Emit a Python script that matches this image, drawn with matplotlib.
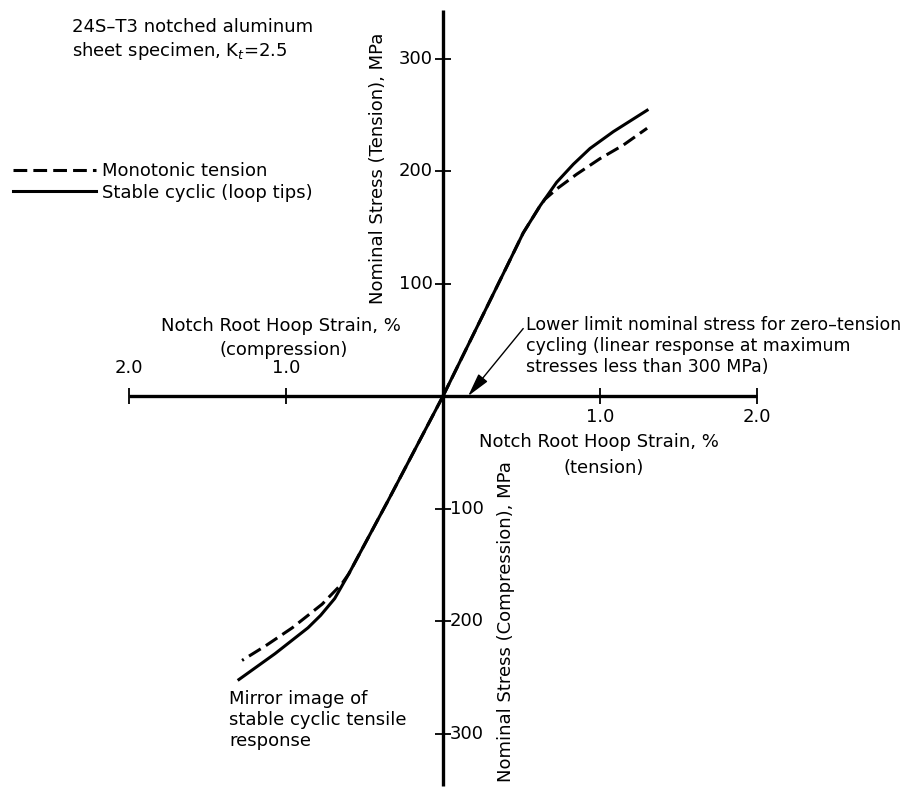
"""Notch root hoop strain vs nominal stress, 24S-T3 notched aluminum sheet."""

import matplotlib.pyplot as plt

# stable cyclic (loop tips) - tension quadrant
cyc_strain_t = [0, 0.406, 0.511, 0.618, 0.724, 0.83, 0.936, 1.085, 1.30]
cyc_stress_t = [0, 115, 145, 169, 190, 206, 220, 235, 254]

# monotonic tension - tension quadrant
mono_strain_t = [0, 0.406, 0.511, 0.618, 0.65, 0.724, 0.85, 1.0, 1.148, 1.30]
mono_stress_t = [0, 115, 145, 169, 175, 184, 197, 211, 223, 238]

# mirror image - compression quadrant
cyc_strain_c = [0, -0.35, -0.50, -0.60, -0.69, -0.78, -0.86, -1.07, -1.30]
cyc_stress_c = [0, -93, -132, -158, -180, -195, -206, -229, -252]
mono_strain_c = [0, -0.35, -0.50, -0.60, -0.645, -0.77, -0.96, -1.13, -1.28]
mono_stress_c = [0, -93, -132, -158, -167, -185, -206, -222, -235]

strain_ticks = [-2.0, -1.0, 1.0, 2.0]
stress_ticks = [-300, -200, -100, 100, 200, 300]
stress_axis_ends = [-347, 343]

# lower limit for zero-tension cycling (arrow tip on strain axis)
lower_limit_strain = 0.16

W, H = 911, 789
FS = 13
PT = 0.72  # points per pixel at dpi 100

plt.rcParams["font.family"] = ["DejaVu Sans"]

fig = plt.figure(figsize=(W / 100, H / 100), dpi=100)
ax = fig.add_axes([0, 0, 1, 1])
ax.set_xlim(-2.822, 2.981)
ax.set_ylim(-349.3, 352.0)
ax.axis("off")

# axes drawn through the origin
ax.plot([strain_ticks[0], strain_ticks[-1]], [0, 0], color="black", lw=2.4,
        solid_capstyle="butt")
ax.plot([0, 0], stress_axis_ends, color="black", lw=2.4, solid_capstyle="butt")
ax.plot(strain_ticks, [0] * len(strain_ticks), ls="none", marker="|",
        ms=12, mew=1.3, color="black")
ax.plot([0] * len(stress_ticks), stress_ticks, ls="none", marker="_",
        ms=11, mew=1.3, color="black")

for t in strain_ticks:
    dy = 28 if t < 0 else -21
    ax.annotate(f"{abs(t):.1f}", (t, 0), xytext=(0, dy * PT),
                textcoords="offset points", ha="center", va="center",
                fontsize=FS)
for t in stress_ticks:
    if t > 0:
        ax.annotate(f"{t}", (0, t), xytext=(-10 * PT, 0),
                    textcoords="offset points", ha="right", va="center",
                    fontsize=FS)
    else:
        ax.annotate(f"{abs(t)}", (0, t), xytext=(7 * PT, 0),
                    textcoords="offset points", ha="left", va="center",
                    fontsize=FS)

# curves
dash = (4.5, 2)
ax.plot(mono_strain_t, mono_stress_t, color="black", lw=2.2, dashes=dash,
        label="Monotonic tension")
ax.plot(cyc_strain_t, cyc_stress_t, color="black", lw=2.2,
        label="Stable cyclic (loop tips)")
ax.plot(mono_strain_c, mono_stress_c, color="black", lw=2.2, dashes=dash)
ax.plot(cyc_strain_c, cyc_stress_c, color="black", lw=2.2)

ax.legend(loc="center left", bbox_to_anchor=(13 / W, 1 - 182 / H),
          frameon=False, fontsize=FS, handlelength=4.6, handletextpad=0.35,
          labelspacing=0.2, borderpad=0, borderaxespad=0)

# axis titles
fig.text(281 / W, 1 - 326 / H, "Notch Root Hoop Strain, %", ha="center",
         va="center", fontsize=FS)
fig.text(284 / W, 1 - 350 / H, "(compression)", ha="center", va="center",
         fontsize=FS)
fig.text(599 / W, 1 - 442 / H, "Notch Root Hoop Strain, %", ha="center",
         va="center", fontsize=FS)
fig.text(604 / W, 1 - 468 / H, "(tension)", ha="center", va="center",
         fontsize=FS)
fig.text(378 / W, 1 - 168 / H, "Nominal Stress (Tension), MPa", rotation=90,
         ha="center", va="center", fontsize=FS)
fig.text(506 / W, 1 - 622 / H, "Nominal Stress (Compression), MPa",
         rotation=90, ha="center", va="center", fontsize=FS)

# notes
fig.text(72 / W, 1 - 40 / H,
         "24S–T3 notched aluminum\nsheet specimen, K$_t$=2.5",
         ha="left", va="center", fontsize=FS)
fig.text(229 / W, 1 - 720 / H,
         "Mirror image of\nstable cyclic tensile\nresponse",
         ha="left", va="center", fontsize=FS)
ax.annotate("Lower limit nominal stress for zero–tension\n"
            "cycling (linear response at maximum\n"
            "stresses less than 300 MPa)",
            xy=(lower_limit_strain, 0), xytext=(526 / W, 1 - 346 / H),
            textcoords="figure fraction", ha="left", va="center",
            fontsize=12.5,
            arrowprops=dict(arrowstyle="-|>,head_length=0.8,head_width=0.2",
                            color="black", lw=1, shrinkA=0, shrinkB=0,
                            mutation_scale=18, relpos=(0, 0.85)))

fig.savefig("out.png", dpi=100)
plt.close(fig)
